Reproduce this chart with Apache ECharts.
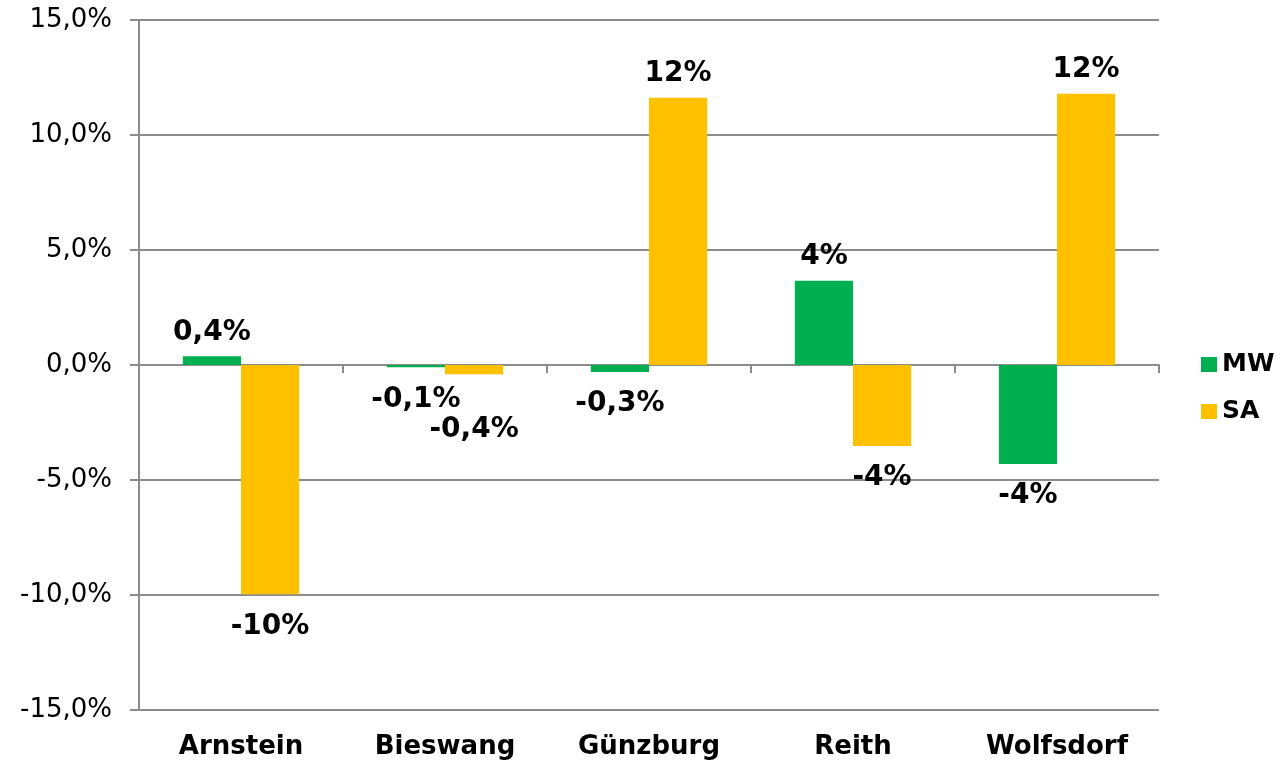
<!DOCTYPE html>
<html>
<head>
<meta charset="utf-8">
<title>MW / SA</title>
<script src="https://cdn.jsdelivr.net/npm/echarts@6/dist/echarts.min.js"></script>
<style>
  html, body { margin: 0; padding: 0; background: #ffffff; }
  #chart { width: 1280px; height: 761px; }
</style>
</head>
<body>
<div id="chart"></div>
<script>
// Locations on the category axis
const categories = ['Arnstein', 'Bieswang', 'Günzburg', 'Reith', 'Wolfsdorf'];

// Percentage change per location
const mwValues = [0.38, -0.1, -0.3, 3.66, -4.3];
const saValues = [-9.97, -0.4, 11.62, -3.52, 11.79];

// Value axis range (percent)
const yMin = -15;
const yMax = 15;
const yStep = 5;

const GRID = '#8c8c8c';
const FONT = 'DejaVu Sans';

function axisPct(v) {
  return v.toFixed(1).replace('.', ',') + '%';
}
function labelPct(v) {
  if (Math.abs(v) >= 1) return Math.round(v) + '%';
  return v.toFixed(1).replace('.', ',') + '%';
}

// Per-point label placement: above for gains, below for losses
function withLabels(values, extraOffsets) {
  return values.map(function (v, i) {
    const pos = v >= 0 ? 'top' : 'bottom';
    const item = {
      value: v,
      label: {
        position: pos,
        distance: v >= 0 ? 10 : 18
      }
    };
    if (extraOffsets && extraOffsets[i]) item.label.offset = extraOffsets[i];
    return item;
  });
}

const labelStyle = {
  show: true,
  fontFamily: FONT,
  fontWeight: 'bold',
  fontSize: 28,
  color: '#000',
  formatter: function (p) { return labelPct(p.value); }
};

const chart = echarts.init(document.getElementById('chart'), null, { renderer: 'canvas' });

chart.setOption({
  animation: false,
  backgroundColor: '#ffffff',
  textStyle: { fontFamily: FONT },
  grid: { left: 139, right: 121, top: 20, bottom: 51, containLabel: false },
  legend: {
    orient: 'vertical',
    left: 1196,
    top: 347,
    itemWidth: 16,
    itemHeight: 15,
    itemGap: 22,
    icon: 'rect',
    textStyle: { fontFamily: FONT, fontWeight: 'bold', fontSize: 25, color: '#000' },
    data: ['MW', 'SA']
  },
  xAxis: [
    {
      // axis line through zero with boundary ticks
      type: 'category',
      data: categories,
      position: 'bottom',
      axisLine: { show: true, onZero: true, lineStyle: { color: GRID, width: 2 } },
      axisTick: { show: true, length: 8, lineStyle: { color: GRID, width: 2 } },
      axisLabel: { show: false },
      splitLine: { show: false }
    },
    {
      // category names along the bottom edge
      type: 'category',
      data: categories,
      position: 'bottom',
      axisLine: { show: false, onZero: false },
      axisTick: { show: false },
      axisLabel: {
        show: true,
        margin: 24,
        fontFamily: FONT,
        fontWeight: 'bold',
        fontSize: 26,
        color: '#000'
      },
      splitLine: { show: false }
    }
  ],
  yAxis: {
    type: 'value',
    min: yMin,
    max: yMax,
    interval: yStep,
    axisLine: { show: true, lineStyle: { color: GRID, width: 2 } },
    axisTick: { show: true, length: 9, lineStyle: { color: GRID, width: 2 } },
    axisLabel: {
      margin: 27,
      fontFamily: FONT,
      fontSize: 26,
      color: '#000',
      formatter: axisPct
    },
    splitLine: { show: true, lineStyle: { color: GRID, width: 2 } }
  },
  series: [
    {
      name: 'MW',
      type: 'bar',
      xAxisIndex: 0,
      data: withLabels(mwValues),
      itemStyle: { color: '#00b050' },
      barGap: '0%',
      barCategoryGap: '43%',
      label: labelStyle
    },
    {
      name: 'SA',
      type: 'bar',
      xAxisIndex: 0,
      data: withLabels(saValues, [null, [0, 24], null, null, null]),
      itemStyle: { color: '#ffc000' },
      barGap: '0%',
      barCategoryGap: '43%',
      label: labelStyle
    }
  ]
});
</script>
</body>
</html>
